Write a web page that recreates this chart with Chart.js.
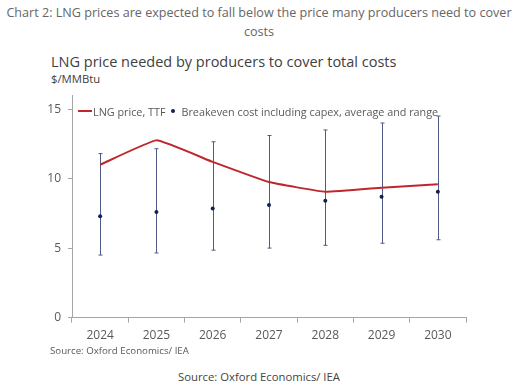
<!DOCTYPE html>
<html lang="en">
<head>
<meta charset="UTF-8">
<title>LNG price needed by producers</title>
<script src="https://cdn.jsdelivr.net/npm/chart.js"></script>
<style>
    body { margin: 0; width: 518px; height: 391px; background: #fff; font-family: "Open Sans", sans-serif; position: relative; overflow: hidden; }
    .headline { position: absolute; top: 3px; left: 0; width: 518px; text-align: center; font-size: 12.6px; line-height: 19px; color: #666; }
    .chart-title { position: absolute; left: 51px; top: 52px; font-size: 14.5px; color: #404040; white-space: nowrap; }
    .unit { position: absolute; left: 51px; top: 71px; font-size: 11.3px; color: #404040; }
    .chart-box { position: absolute; left: 0; top: 81px; width: 518px; height: 268px; }
    .legend { position: absolute; left: 78px; top: 102px; font-size: 10.8px; color: #595959; white-space: nowrap; }
    .legend span { display: inline-block; vertical-align: middle; }
    .source-small { position: absolute; left: 50px; top: 344px; font-size: 9.7px; color: #595959; }
    .source { position: absolute; top: 369px; left: 0; width: 518px; text-align: center; font-size: 11.3px; color: #444; }
</style>
</head>
<body>
<div class="headline">Chart 2: LNG prices are expected to fall below the price many producers need to cover costs</div>
<div class="chart-title">LNG price needed by producers to cover total costs</div>
<div class="unit">$/MMBtu</div>
<div class="chart-box"><canvas id="lngChart"></canvas></div>
<div class="legend" id="legend"></div>
<div class="source-small">Source: Oxford Economics/ IEA</div>
<div class="source">Source: Oxford Economics/ IEA</div>

<script>
    // Values
    const years = ['2024', '2025', '2026', '2027', '2028', '2029', '2030'];
    const ttfPrice = [11.0, 12.75, 11.2, 9.75, 9.05, 9.35, 9.6];
    const breakevenAvg = [7.3, 7.6, 7.85, 8.1, 8.4, 8.7, 9.05];
    const breakevenLow = [4.5, 4.65, 4.85, 5.0, 5.2, 5.35, 5.6];
    const breakevenHigh = [11.8, 12.15, 12.65, 13.1, 13.5, 14.0, 14.5];
    const yTicks = [0, 5, 10, 15];

    const red = '#C0272D';
    const navy = '#0F2250';
    const axisGrey = '#A6A6A6';
    const textGrey = '#595959';

    // Vertical range bars with small caps, drawn under the points
    const rangeBars = {
        id: 'rangeBars',
        beforeDatasetsDraw(chart) {
            const ctx = chart.ctx;
            const x = chart.scales.x;
            const y = chart.scales.y;
            ctx.save();
            ctx.strokeStyle = '#4F5B86';
            ctx.lineWidth = 1;
            years.forEach((yr, i) => {
                const px = Math.round(x.getPixelForValue(i)) + 0.5;
                const top = y.getPixelForValue(breakevenHigh[i]);
                const bottom = y.getPixelForValue(breakevenLow[i]);
                ctx.beginPath();
                ctx.moveTo(px, top);
                ctx.lineTo(px, bottom);
                ctx.moveTo(px - 2, top);
                ctx.lineTo(px + 2, top);
                ctx.moveTo(px - 2, bottom);
                ctx.lineTo(px + 2, bottom);
                ctx.stroke();
            });
            ctx.restore();
        }
    };

    const chart = new Chart(document.getElementById('lngChart'), {
        type: 'line',
        data: {
            labels: years,
            datasets: [{
                label: 'LNG price, TTF',
                data: ttfPrice,
                borderColor: red,
                backgroundColor: red,
                borderWidth: 2,
                pointRadius: 0,
                tension: 0.1
            }, {
                label: 'Breakeven cost including capex, average and range',
                data: breakevenAvg,
                showLine: false,
                pointRadius: 2,
                pointBorderWidth: 0,
                pointBackgroundColor: navy,
                borderColor: navy,
                backgroundColor: navy
            }]
        },
        options: {
            responsive: true,
            maintainAspectRatio: false,
            animation: false,
            layout: { padding: { left: 40, right: 52, top: 4, bottom: 0 } },
            plugins: {
                legend: { display: false },
                tooltip: { enabled: false }
            },
            scales: {
                x: {
                    offset: true,
                    grid: { offset: true, drawOnChartArea: false, color: axisGrey, tickLength: 5 },
                    border: { color: axisGrey },
                    ticks: { color: textGrey, font: { family: 'Open Sans', size: 12 }, padding: 6, maxRotation: 0 }
                },
                y: {
                    min: 0,
                    max: 16,
                    afterBuildTicks: axis => { axis.ticks = yTicks.map(v => ({ value: v })); },
                    afterFit: axis => { axis.width = 32; },
                    grid: { drawOnChartArea: false, color: axisGrey, tickLength: 4 },
                    border: { color: axisGrey },
                    ticks: { color: textGrey, font: { family: 'Open Sans', size: 12 }, padding: 7 }
                }
            }
        },
        plugins: [rangeBars]
    });

    // Legend built from the datasets
    const legend = document.getElementById('legend');
    legend.innerHTML =
        '<span style="width:14px;height:2px;background:' + red + '"></span>' +
        '<span style="margin-left:1px">' + chart.data.datasets[0].label + '</span>' +
        '<span style="width:4px;height:4px;border-radius:50%;background:' + navy + ';margin-left:6px"></span>' +
        '<span style="margin-left:6px">' + chart.data.datasets[1].label + '</span>';
</script>
</body>
</html>
